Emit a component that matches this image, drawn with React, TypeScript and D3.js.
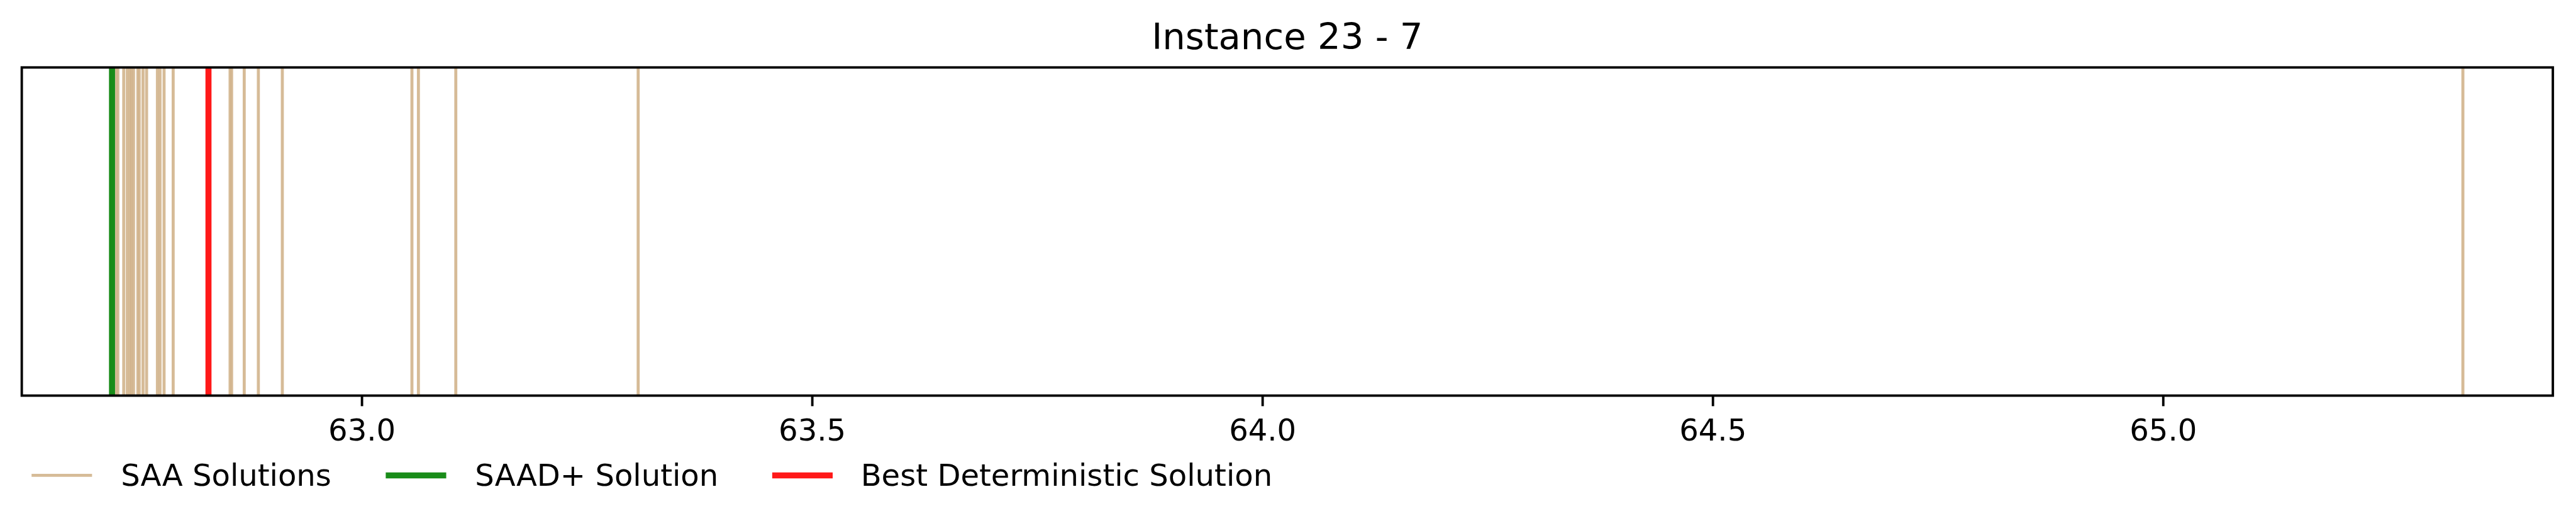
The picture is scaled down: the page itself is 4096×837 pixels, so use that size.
import React, { useEffect, useRef } from 'react';
import * as d3 from 'd3';

// chart values
const title = 'Instance 23 - 7';
const saaSolutions = [
  62.7277, 62.7293, 62.7358, 62.7398, 62.7427, 62.7444, 62.7467, 62.7515,
  62.753, 62.7572, 62.7612, 62.7732, 62.7761, 62.7806, 62.7907, 62.8539,
  62.8556, 62.8696, 62.8853, 62.9119, 63.0558, 63.063, 63.1045, 63.307, 65.333,
];
const saadPlusSolution = 62.7228;
const bestDeterministic = 62.8299;
const xTicks = [63.0, 63.5, 64.0, 64.5, 65.0];
const xDomain = [62.6226, 65.4329];
const legendItems = [
  { label: 'SAA Solutions', color: '#D2B48C', width: 1 },
  { label: 'SAAD+ Solution', color: 'green', width: 2 },
  { label: 'Best Deterministic Solution', color: 'red', width: 2 },
];

const S = 0.577;
const W = 4096;
const H = 837;
const pt = (600 / 72) * S; // one point in pixels

function App() {
  const svgRef = useRef<SVGSVGElement>(null);

  useEffect(() => {
    document.body.style.margin = '0';
    const svg = d3.select(svgRef.current);
    svg.selectAll('*').remove();

    const margin = { left: 60 * S, right: W - 7035 * S, top: 186 * S, bottom: H - 1091 * S };
    const x = d3.scaleLinear().domain(xDomain).range([margin.left, W - margin.right]);
    const y0 = margin.top;
    const y1 = H - margin.bottom;
    const font = 'DejaVu Sans, sans-serif';

    svg.append('rect').attr('width', W).attr('height', H).attr('fill', 'white');

    const g = svg.append('g');

    g.selectAll('.saa')
      .data(saaSolutions)
      .enter()
      .append('line')
      .attr('class', 'saa')
      .attr('x1', (d) => x(d))
      .attr('x2', (d) => x(d))
      .attr('y1', y0)
      .attr('y2', y1)
      .attr('stroke', '#D2B48C')
      .attr('stroke-opacity', 0.9)
      .attr('stroke-width', 1 * pt);

    [
      { v: saadPlusSolution, c: 'green' },
      { v: bestDeterministic, c: 'red' },
    ].forEach((d) => {
      g.append('line')
        .attr('x1', x(d.v))
        .attr('x2', x(d.v))
        .attr('y1', y0)
        .attr('y2', y1)
        .attr('stroke', d.c)
        .attr('stroke-opacity', 0.9)
        .attr('stroke-width', 2 * pt);
    });

    // frame
    svg.append('rect')
      .attr('x', margin.left)
      .attr('y', y0)
      .attr('width', W - margin.right - margin.left)
      .attr('height', y1 - y0)
      .attr('fill', 'none')
      .attr('stroke', 'black')
      .attr('stroke-width', 0.8 * pt);

    // x axis
    const xAxis = d3.axisBottom(x)
      .tickValues(xTicks)
      .tickFormat(d3.format('.1f'))
      .tickSize(3.5 * pt)
      .tickPadding(3.5 * pt);
    const ax = svg.append('g').attr('transform', `translate(0,${y1})`).call(xAxis);
    ax.select('.domain').remove();
    ax.selectAll('.tick line').attr('stroke', 'black').attr('stroke-width', 0.8 * pt);
    ax.selectAll('.tick text')
      .attr('fill', 'black')
      .attr('dy', null)
      .attr('y', 1215 * S - y1)
      .style('font-family', font)
      .style('font-size', `${10 * pt}px`);

    // title
    svg.append('text')
      .attr('x', (margin.left + W - margin.right) / 2)
      .attr('y', 136 * S)
      .attr('text-anchor', 'middle')
      .style('font-family', font)
      .style('font-size', `${12 * pt}px`)
      .text(title);

    // legend
    const handleX = [87, 1063, 2128];
    const textX = [333, 1309, 2372];
    const leg = svg.append('g');
    legendItems.forEach((d, i) => {
      leg.append('line')
        .attr('x1', handleX[i] * S)
        .attr('x2', handleX[i] * S + 2 * 10 * pt)
        .attr('y1', 1311 * S)
        .attr('y2', 1311 * S)
        .attr('stroke', d.color)
        .attr('stroke-opacity', 0.9)
        .attr('stroke-width', d.width * pt);
      leg.append('text')
        .attr('x', textX[i] * S)
        .attr('y', 1340 * S)
        .style('font-family', font)
        .style('font-size', `${10 * pt}px`)
        .text(d.label);
    });
  }, []);

  return (
    <div style={{ position: 'absolute', left: 0, top: 0 }}>
      <svg ref={svgRef} width={W} height={H} style={{ display: 'block' }}></svg>
    </div>
  );
}

export default App;
